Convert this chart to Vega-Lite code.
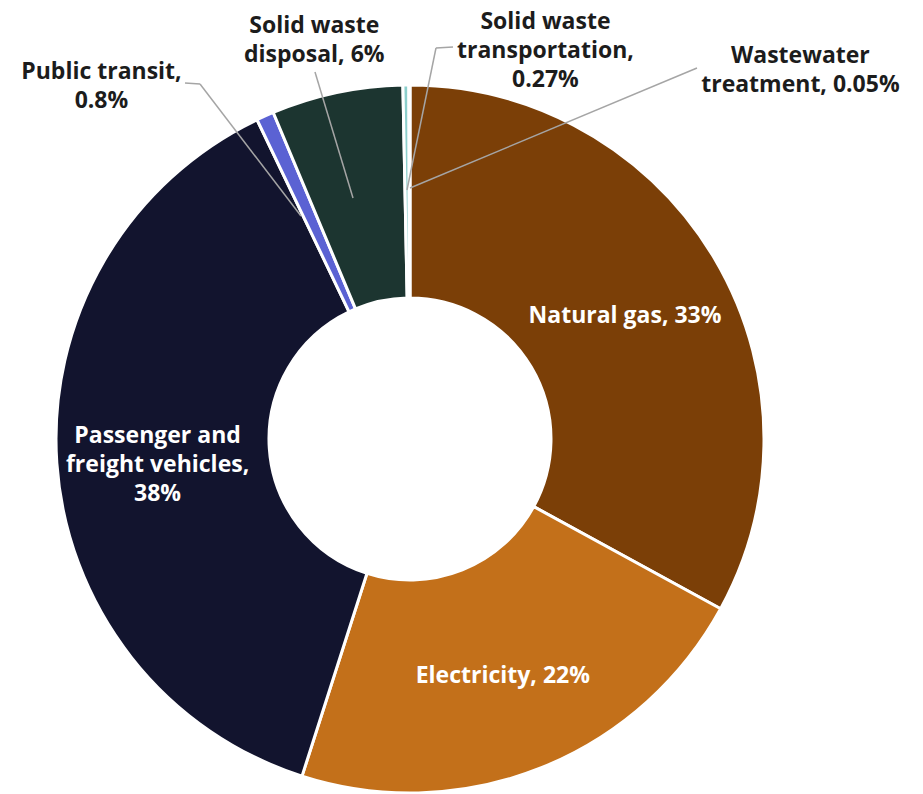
{
  "$schema": "https://vega.github.io/schema/vega-lite/v6.json",
  "width": 820,
  "height": 710,
  "autosize": {"type": "none"},
  "padding": {"left": 0, "top": 84, "right": 103, "bottom": 0},
  "background": "white",
  "config": {"view": {"stroke": null}, "font": "Open Sans"},
  "data": {
    "values": [
      {"idx": 1, "category": "Natural gas", "value": 33, "label": "Natural gas, 33%"},
      {"idx": 2, "category": "Electricity", "value": 22, "label": "Electricity, 22%"},
      {"idx": 3, "category": "Passenger and freight vehicles", "value": 38, "label": "Passenger and\nfreight vehicles,\n38%"},
      {"idx": 4, "category": "Public transit", "value": 0.8, "label": "Public transit,\n0.8%"},
      {"idx": 5, "category": "Solid waste disposal", "value": 6, "label": "Solid waste\ndisposal, 6%"},
      {"idx": 6, "category": "Solid waste transportation", "value": 0.27, "label": "Solid waste\ntransportation,\n0.27%"},
      {"idx": 7, "category": "Wastewater treatment", "value": 0.05, "label": "Wastewater\ntreatment, 0.05%"}
    ]
  },
  "layer": [
    {
      "mark": {"type": "arc", "innerRadius": 141, "outerRadius": 354, "stroke": "white", "strokeWidth": 3},
      "encoding": {
        "theta": {"field": "value", "type": "quantitative", "stack": true},
        "order": {"field": "idx", "type": "quantitative"},
        "color": {
          "field": "category", "type": "nominal", "legend": null,
          "scale": {
            "domain": ["Natural gas", "Electricity", "Passenger and freight vehicles", "Public transit", "Solid waste disposal", "Solid waste transportation", "Wastewater treatment"],
            "range": ["#7b3f07", "#c3701a", "#12142e", "#5b62d3", "#1c3530", "#8ccfcc", "#9dc3e6"]
          }
        }
      }
    },
    {
      "mark": {"type": "text", "radius": 250, "dy": 5, "color": "white", "fontSize": 23, "fontWeight": "bold", "lineBreak": "\n", "lineHeight": 29, "align": "center", "baseline": "middle"},
      "encoding": {
        "theta": {"field": "value", "type": "quantitative", "stack": true},
        "order": {"field": "idx", "type": "quantitative"},
        "text": {"condition": {"test": "datum.category === 'Natural gas' || datum.category === 'Electricity'", "field": "label"}, "value": ""}
      }
    },
    {
      "mark": {"type": "text", "radius": 250, "dx": -3, "dy": -20, "color": "white", "fontSize": 23, "fontWeight": "bold", "lineBreak": "\n", "lineHeight": 29, "align": "center", "baseline": "middle"},
      "encoding": {
        "theta": {"field": "value", "type": "quantitative", "stack": true},
        "order": {"field": "idx", "type": "quantitative"},
        "text": {"condition": {"test": "datum.category === 'Passenger and freight vehicles'", "field": "label"}, "value": ""}
      }
    },
    {
      "mark": {"type": "text", "radius": 380, "dx": -153, "dy": -20, "color": "#1c1c1c", "fontSize": 23, "fontWeight": "bold", "lineBreak": "\n", "lineHeight": 29, "align": "center", "baseline": "middle"},
      "encoding": {
        "theta": {"field": "value", "type": "quantitative", "stack": true},
        "order": {"field": "idx", "type": "quantitative"},
        "text": {"condition": {"test": "datum.category === 'Public transit'", "field": "label"}, "value": ""}
      }
    },
    {
      "mark": {"type": "text", "radius": 400, "dx": -13, "dy": -22, "color": "#1c1c1c", "fontSize": 23, "fontWeight": "bold", "lineBreak": "\n", "lineHeight": 29, "align": "center", "baseline": "middle"},
      "encoding": {
        "theta": {"field": "value", "type": "quantitative", "stack": true},
        "order": {"field": "idx", "type": "quantitative"},
        "text": {"condition": {"test": "datum.category === 'Solid waste disposal'", "field": "label"}, "value": ""}
      }
    },
    {
      "mark": {"type": "text", "radius": 390, "dx": 140, "dy": -27, "color": "#1c1c1c", "fontSize": 23, "fontWeight": "bold", "lineBreak": "\n", "lineHeight": 29, "align": "center", "baseline": "middle"},
      "encoding": {
        "theta": {"field": "value", "type": "quantitative", "stack": true},
        "order": {"field": "idx", "type": "quantitative"},
        "text": {"condition": {"test": "datum.category === 'Solid waste transportation'", "field": "label"}, "value": ""}
      }
    },
    {
      "mark": {"type": "text", "radius": 370, "dx": 391, "dy": -13, "color": "#1c1c1c", "fontSize": 23, "fontWeight": "bold", "lineBreak": "\n", "lineHeight": 29, "align": "center", "baseline": "middle"},
      "encoding": {
        "theta": {"field": "value", "type": "quantitative", "stack": true},
        "order": {"field": "idx", "type": "quantitative"},
        "text": {"condition": {"test": "datum.category === 'Wastewater treatment'", "field": "label"}, "value": ""}
      }
    },
    {
      "data": {"values": [{}]},
      "mark": {"type": "rule", "color": "#a5a5a5", "strokeWidth": 1.5},
      "encoding": {
        "x": {"datum": -0.6356, "type": "quantitative", "scale": {"domain": [-1.15819, 1.15819], "nice": false, "zero": false}, "axis": null},
        "y": {"datum": 1.0056, "type": "quantitative", "scale": {"domain": [-1.002825, 1.002825], "nice": false, "zero": false}, "axis": null},
        "x2": {"datum": -0.5932},
        "y2": {"datum": 1.0028}
      }
    },
    {
      "data": {"values": [{}]},
      "mark": {"type": "rule", "color": "#a5a5a5", "strokeWidth": 1.5},
      "encoding": {
        "x": {"datum": -0.5932, "type": "quantitative"},
        "y": {"datum": 1.0028, "type": "quantitative"},
        "x2": {"datum": -0.3079},
        "y2": {"datum": 0.6299}
      }
    },
    {
      "data": {"values": [{}]},
      "mark": {"type": "rule", "color": "#a5a5a5", "strokeWidth": 1.5},
      "encoding": {
        "x": {"datum": -0.2684, "type": "quantitative"},
        "y": {"datum": 1.0367, "type": "quantitative"},
        "x2": {"datum": -0.161},
        "y2": {"datum": 0.6808}
      }
    },
    {
      "data": {"values": [{}]},
      "mark": {"type": "rule", "color": "#a5a5a5", "strokeWidth": 1.5},
      "encoding": {
        "x": {"datum": 0.1215, "type": "quantitative"},
        "y": {"datum": 1.1073, "type": "quantitative"},
        "x2": {"datum": 0.0734},
        "y2": {"datum": 1.1045}
      }
    },
    {
      "data": {"values": [{}]},
      "mark": {"type": "rule", "color": "#a5a5a5", "strokeWidth": 1.5},
      "encoding": {
        "x": {"datum": 0.0734, "type": "quantitative"},
        "y": {"datum": 1.1045, "type": "quantitative"},
        "x2": {"datum": -0.0085},
        "y2": {"datum": 0.7034}
      }
    },
    {
      "data": {"values": [{}]},
      "mark": {"type": "rule", "color": "#a5a5a5", "strokeWidth": 1.5},
      "encoding": {
        "x": {"datum": 0.8107, "type": "quantitative"},
        "y": {"datum": 1.048, "type": "quantitative"},
        "x2": {"datum": 0.0},
        "y2": {"datum": 0.709}
      }
    }
  ]
}
